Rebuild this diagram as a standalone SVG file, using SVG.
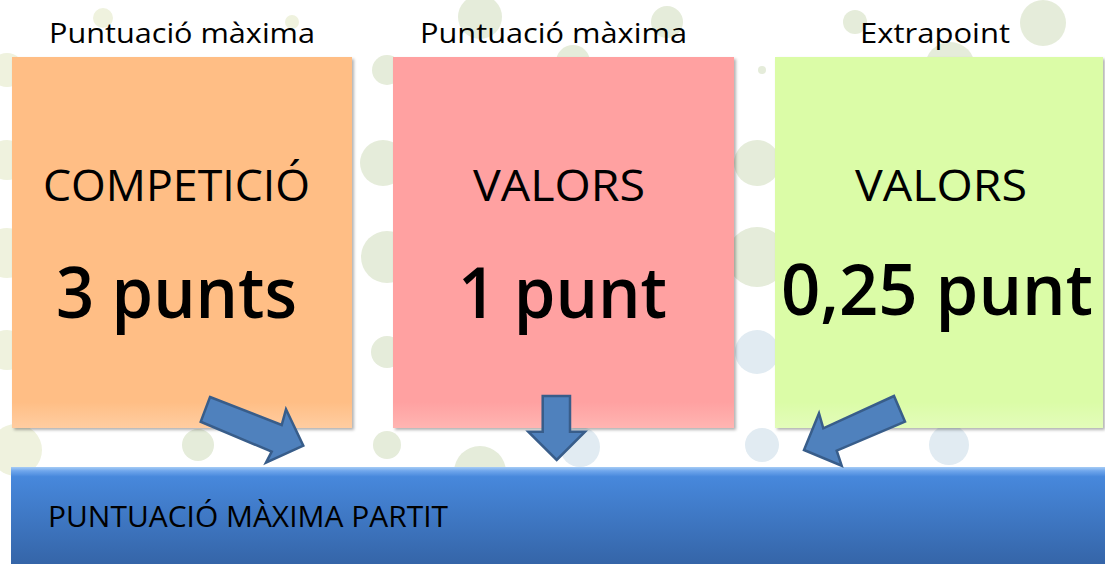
<svg xmlns="http://www.w3.org/2000/svg" width="1105" height="564" viewBox="0 0 1105 564">
<style>
.lbl{font-family:"Open Sans","Liberation Sans",sans-serif;font-size:27px;fill:#000;text-anchor:start}
.mid{font-family:"Open Sans","Liberation Sans",sans-serif;font-size:44px;fill:#000}
.big{font-family:"Open Sans","Liberation Sans",sans-serif;font-size:70px;font-weight:600;fill:#000}
.bar{font-family:"Open Sans","Liberation Sans",sans-serif;font-size:30px;fill:#000}
.arrow{fill:#4F81BD;stroke:#385D8A;stroke-width:2.5;stroke-linejoin:miter}
.cg{fill:#E5ECDA}
.cy{fill:#EFF2DE}
.cb{fill:#E1EBF2}
</style>
<defs>
<linearGradient id="g1" x1="0" y1="0" x2="0" y2="1">
<stop offset="0" stop-color="#FFBE85"/><stop offset="0.93" stop-color="#FFBE85"/><stop offset="1" stop-color="#FFCDA1"/>
</linearGradient>
<linearGradient id="g2" x1="0" y1="0" x2="0" y2="1">
<stop offset="0" stop-color="#FFA1A1"/><stop offset="0.93" stop-color="#FFA1A1"/><stop offset="1" stop-color="#FFB5B2"/>
</linearGradient>
<linearGradient id="g3" x1="0" y1="0" x2="0" y2="1">
<stop offset="0" stop-color="#DBFCA7"/><stop offset="0.93" stop-color="#DBFCA7"/><stop offset="1" stop-color="#E3FCBA"/>
</linearGradient>
<linearGradient id="gb" x1="0" y1="0" x2="0" y2="1">
<stop offset="0" stop-color="#A6CCF5"/><stop offset="0.04" stop-color="#6FA6EC"/><stop offset="0.1" stop-color="#4788DC"/><stop offset="1" stop-color="#3565A8"/>
</linearGradient>
<filter id="sh" x="-5%" y="-5%" width="110%" height="110%">
<feDropShadow dx="2" dy="2" stdDeviation="1.5" flood-color="#000" flood-opacity="0.3"/>
</filter>
</defs>
<rect x="0" y="0" width="1105" height="564" fill="#FFFFFF"/>
<g id="background">
<circle class="cy" cx="103" cy="18" r="10"/>
<circle class="cy" cx="292" cy="22" r="7"/>
<circle class="cg" cx="480" cy="17" r="22"/>
<circle class="cg" cx="667" cy="22" r="16"/>
<circle class="cg" cx="855" cy="22" r="12"/>
<circle class="cg" cx="1043" cy="23" r="23"/>
<circle class="cg" cx="573" cy="62" r="17"/>
<circle class="cg" cx="950" cy="67" r="25"/>
<circle class="cy" cx="7" cy="70" r="17"/>
<circle class="cy" cx="7" cy="160" r="20"/>
<circle class="cy" cx="7" cy="253" r="25"/>
<circle class="cy" cx="7" cy="350" r="20"/>
<circle class="cy" cx="16" cy="450" r="26"/>
<circle class="cg" cx="387" cy="70" r="15"/>
<circle class="cg" cx="383" cy="163" r="23"/>
<circle class="cg" cx="387" cy="257" r="26"/>
<circle class="cg" cx="387" cy="352" r="16"/>
<circle class="cg" cx="387" cy="445" r="14"/>
<circle class="cg" cx="762" cy="70" r="4"/>
<circle class="cg" cx="757" cy="163" r="23"/>
<circle class="cg" cx="757" cy="257" r="30"/>
<circle class="cb" cx="757" cy="352" r="22"/>
<circle class="cb" cx="762" cy="445" r="17"/>
<circle class="cg" cx="198" cy="445" r="16"/>
<circle class="cg" cx="480" cy="472" r="26"/>
<circle class="cb" cx="580" cy="447" r="20"/>
<circle class="cb" cx="949" cy="445" r="20"/>
</g>
<g id="label-1"><text class="lbl" x="49" y="43" textLength="266" lengthAdjust="spacingAndGlyphs">Puntuació màxima</text></g>
<g id="label-2"><text class="lbl" x="420" y="43" textLength="267" lengthAdjust="spacingAndGlyphs">Puntuació màxima</text></g>
<g id="label-3"><text class="lbl" x="860" y="43" textLength="150" lengthAdjust="spacingAndGlyphs">Extrapoint</text></g>
<g id="box-competicio">
<rect x="12" y="57" width="340" height="371" fill="url(#g1)" filter="url(#sh)"/>
<text class="mid" x="43" y="201" textLength="267" lengthAdjust="spacingAndGlyphs">COMPETICIÓ</text>
<text class="big" x="56" y="318" textLength="241" lengthAdjust="spacingAndGlyphs">3 punts</text>
</g>
<g id="box-valors">
<rect x="393" y="57" width="341" height="371" fill="url(#g2)" filter="url(#sh)"/>
<text class="mid" x="473" y="201" textLength="172" lengthAdjust="spacingAndGlyphs">VALORS</text>
<text class="big" x="458" y="318" textLength="209" lengthAdjust="spacingAndGlyphs">1 punt</text>
</g>
<g id="box-extrapoint">
<rect x="775" y="57" width="328" height="371" fill="url(#g3)" filter="url(#sh)"/>
<text class="mid" x="855" y="201" textLength="172" lengthAdjust="spacingAndGlyphs">VALORS</text>
<text class="big" x="781" y="315" textLength="312" lengthAdjust="spacingAndGlyphs">0,25 punt</text>
</g>
<g id="bar-total">
<rect x="11" y="467" width="1094" height="97" fill="url(#gb)"/>
<text class="bar" x="48" y="527" textLength="400" lengthAdjust="spacingAndGlyphs">PUNTUACIÓ MÀXIMA PARTIT</text>
</g>
<g id="connectors">
<polygon class="arrow" points="210,397 281.7,425 286,409.3 303.3,445.7 266,462.7 271.7,451.7 200.7,421.7"/>
<polygon class="arrow" points="542.7,396 570,396 570,431.7 585,431.7 556.7,460 528.3,431.7 542.7,431.7"/>
<polygon class="arrow" points="894,396 823.3,428.3 819,413.3 804,450 841.7,465.7 836.7,450.7 905,421.7"/>
</g>
</svg>
